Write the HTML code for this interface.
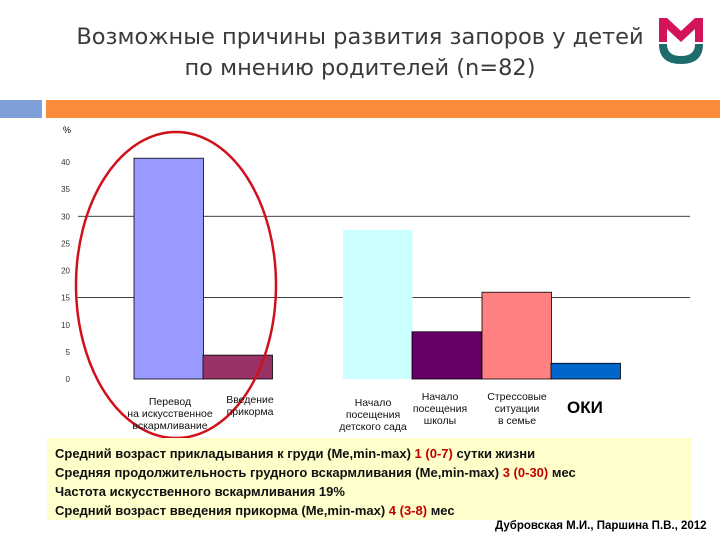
<!DOCTYPE html>
<html><head><meta charset="utf-8"><style>
body{margin:0;width:720px;height:540px;background:#fff;position:relative;overflow:hidden;font-family:"Liberation Sans",sans-serif}
.abs{position:absolute}
#title{left:30px;top:22px;width:660px;text-align:center;font-family:"DejaVu Sans",sans-serif;font-size:22.5px;color:#3a3a3a;line-height:31px}
.lbl{position:absolute;font-size:10.5px;text-align:center;line-height:12px;color:#111}
#info{left:47px;top:438px;width:645px;height:82px;background:#ffffcc;font-size:13px;font-weight:bold;line-height:19px;padding:6px 0 0 8px;box-sizing:border-box;color:#111}
.r{color:#c00000}
</style></head><body>
<div id="title" class="abs">Возможные причины развития запоров у детей<br>по мнению родителей (n=82)</div>
<svg class="abs" style="left:655px;top:16px" width="52" height="50">
<path d="M4 2 L4 26 L12 26 L12 13 L26 26 L40 13 L40 26 L48 26 L48 2 L40 2 L26 15 L12 2 Z" fill="#d4145a"/>
<path d="M4 28 Q4 48 26 48 Q48 48 48 28 L40 28 Q40 40 26 40 Q12 40 12 28 Z" fill="#1e6b6b"/>
</svg>
<div class="abs" style="left:0;top:100px;width:42px;height:18px;background:#7f9fd8"></div>
<div class="abs" style="left:46px;top:100px;width:674px;height:18px;background:#f98b3a"></div>
<svg id="chart" class="abs" style="left:0;top:0" width="720" height="440"></svg>
<div class="lbl" style="left:100px;top:396px;width:140px">Перевод<br>на искусственное<br>вскармливание</div>
<div class="lbl" style="left:210px;top:394px;width:80px">Введение<br>прикорма</div>
<div class="lbl" style="left:318px;top:397px;width:110px">Начало<br>посещения<br>детского сада</div>
<div class="lbl" style="left:400px;top:391px;width:80px">Начало<br>посещения<br>школы</div>
<div class="lbl" style="left:472px;top:391px;width:90px">Стрессовые<br>ситуации<br>в семье</div>
<div class="abs" style="left:567px;top:398px;font-size:17px;font-weight:bold">ОКИ</div>
<div id="info" class="abs">
Средний возраст прикладывания к груди (Me,min-max) <span class="r">1 (0-7)</span> сутки жизни<br>
Средняя продолжительность грудного вскармливания (Me,min-max) <span class="r">3 (0-30)</span> мес<br>
Частота искусственного вскармливания 19%<br>
Средний возраст введения прикорма (Me,min-max) <span class="r">4 (3-8)</span> мес</div>
<div class="abs" style="left:495px;top:520px;font-size:11.5px;font-weight:bold">Дубровская М.И., Паршина П.В., 2012</div>
<script>
const categories=["Перевод на искусственное вскармливание","Введение прикорма","Начало посещения детского сада","Начало посещения школы","Стрессовые ситуации в семье","ОКИ"];
const values=[40.7,4.4,27.5,8.7,16,2.9];
const colors=["#9999ff","#993366","#ccffff","#660066","#ff8080","#0066cc"];
const ticks=[0,5,10,15,20,25,30,35,40];
const tickLabels=["0","5","10","15","20","25","30","35","40"];
const gridVals=[15,30];
const ns="http://www.w3.org/2000/svg",svg=document.getElementById('chart');
const y=v=>379-v*(379-162)/40;
const slots=[134,203,343,412,482,551],bw=69.5;
const x=i=>slots[i];
function mk(t,a){const e=document.createElementNS(ns,t);for(const k in a)e.setAttribute(k,a[k]);svg.appendChild(e);return e;}
gridVals.forEach(g=>{const l=mk('line',{x1:78,x2:690,y1:y(g),y2:y(g),stroke:'#000','stroke-width':0.8});

});
ticks.forEach((t,i)=>{const e=mk('text',{x:70,y:y(t)+3,'text-anchor':'end','font-size':8,fill:'#333','font-family':'Liberation Sans'});e.textContent=tickLabels[i];

});
const p=mk('text',{x:63,y:133,'font-size':9,fill:'#000'});p.textContent='%';


values.forEach((v,i)=>{const r=mk('rect',{x:x(i),y:y(v),width:bw,height:y(0)-y(v),fill:colors[i],stroke:(i==2?'none':'#000'),'stroke-width':0.8});

});
const el=mk('ellipse',{cx:176,cy:285,rx:100,ry:153,fill:'none',stroke:'#d0101a','stroke-width':2.5});


</script>
</body></html>
